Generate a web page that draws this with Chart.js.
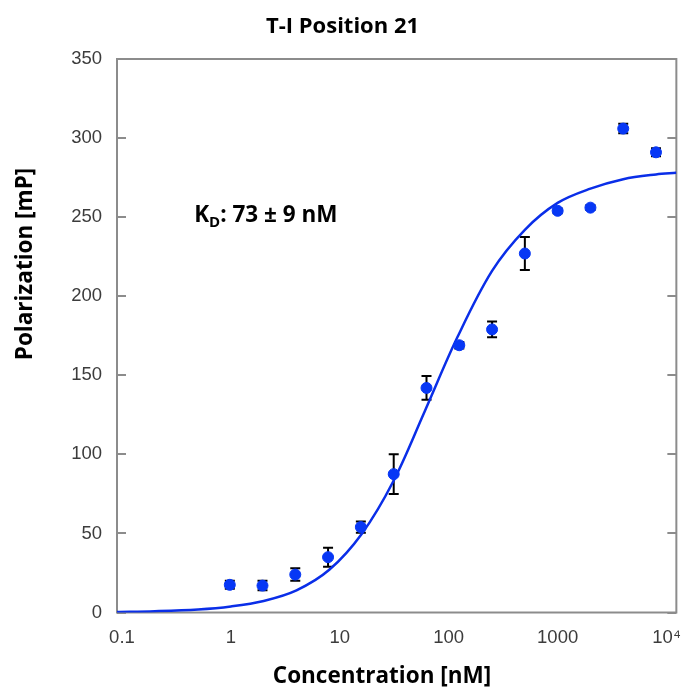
<!DOCTYPE html>
<html>
<head>
<meta charset="utf-8">
<script src="https://cdn.jsdelivr.net/npm/chart.js@4.4.1/dist/chart.umd.min.js"></script>
<style>
  html, body { margin: 0; padding: 0; background: #fff; }
</style>
</head>
<body>
<canvas id="fpChart" width="695" height="696"></canvas>
<script>
// titration: concentration (nM) vs. polarization (mP)
const concentrations = [0.977, 1.95, 3.9, 7.8, 15.6, 31.25, 62.5, 125, 250, 500, 1000, 2000, 4000, 8000];
const polarization   = [17.5, 17, 24, 35, 54, 87.5, 142, 169, 179, 227, 254, 256, 306, 291];
const polErrors      = [2.5, 3, 4, 6, 3.5, 12.5, 7.5, 2, 5, 10.5, 1.5, 1.5, 3, 2.5];

// fitted binding curve
const fitConc = [0.09, 0.2, 0.5, 1, 2, 4, 8, 16, 31, 60, 120, 250, 500, 1000, 2000, 4000, 8000, 12300];
const fitPol  = [0.35, 0.8, 1.9, 3.8, 7.3, 14, 27, 50, 83, 127, 174, 216, 242, 259, 268, 274, 277, 278];

const xTicks      = [0.1, 1, 10, 100, 1000, 10000];
const xTickLabels = ['0.1', '1', '10', '100', '1000', '10\u2074'];
const yTicks      = [0, 50, 100, 150, 200, 250, 300, 350];

const titleFont = '"Open Sans", Lato, sans-serif';

// frame, inward ticks, error bars and the free text
const decorPlugin = {
    id: 'decor',
    beforeDatasetsDraw(chart) {
        const { ctx, chartArea: a, scales: { x, y } } = chart;
        ctx.save();
        ctx.strokeStyle = '#8c8c8c';
        ctx.lineWidth = 2;
        ctx.strokeRect(a.left, a.top, a.width, a.height);
        ctx.beginPath();
        yTicks.forEach(v => {
            const py = Math.round(y.getPixelForValue(v));
            ctx.moveTo(a.left, py); ctx.lineTo(a.left + 9, py);
            ctx.moveTo(a.right - 9, py); ctx.lineTo(a.right, py);
        });
        ctx.stroke();

        ctx.strokeStyle = '#000';
        ctx.lineWidth = 2;
        concentrations.forEach((c, i) => {
            const px = x.getPixelForValue(c);
            const top = y.getPixelForValue(polarization[i] + polErrors[i]);
            const bot = y.getPixelForValue(polarization[i] - polErrors[i]);
            ctx.beginPath();
            ctx.moveTo(px, top); ctx.lineTo(px, bot);
            ctx.moveTo(px - 5, top); ctx.lineTo(px + 5, top);
            ctx.moveTo(px - 5, bot); ctx.lineTo(px + 5, bot);
            ctx.stroke();
        });
        ctx.restore();
    },
    afterDraw(chart) {
        const { ctx, scales: { x, y } } = chart;
        ctx.save();
        ctx.fillStyle = '#000';
        ctx.textAlign = 'center';
        ctx.textBaseline = 'middle';
        ctx.font = 'bold 22.5px ' + titleFont;
        ctx.fillText('Concentration [nM]', 382, 677);

        ctx.translate(26, 264);
        ctx.rotate(-Math.PI / 2);
        ctx.fillText('Polarization [mP]', 0, 0);
        ctx.restore();

        // K_D annotation
        ctx.save();
        ctx.fillStyle = '#000';
        ctx.textBaseline = 'alphabetic';
        let tx = x.getPixelForValue(0.46);
        const ty = y.getPixelForValue(247);
        ctx.font = 'bold 22.5px ' + titleFont;
        ctx.fillText('K', tx, ty);
        tx += ctx.measureText('K').width;
        ctx.font = 'bold 15px ' + titleFont;
        ctx.fillText('D', tx, ty + 5);
        tx += ctx.measureText('D').width;
        ctx.font = 'bold 22.5px ' + titleFont;
        ctx.fillText(': 73 \u00b1 9 nM', tx, ty);
        ctx.restore();
    }
};

const fitData = fitConc.map((c, i) => ({ x: c, y: fitPol[i] }));
const pointData = concentrations.map((c, i) => ({ x: c, y: polarization[i] }));

new Chart(document.getElementById('fpChart'), {
    type: 'scatter',
    data: {
        datasets: [
            {
                label: 'fit',
                data: fitData,
                showLine: true,
                borderColor: '#0a2ee8',
                borderWidth: 2.5,
                pointRadius: 0,
                tension: 0.35,
                order: 2
            },
            {
                label: 'data',
                data: pointData,
                backgroundColor: '#0737f5',
                borderColor: '#0737f5',
                pointRadius: 5.5,
                order: 1
            }
        ]
    },
    options: {
        responsive: false,
        animation: false,
        layout: { padding: { left: 0, right: 10, top: 0, bottom: 0 } },
        plugins: {
            legend: { display: false },
            tooltip: { enabled: false },
            title: {
                display: true,
                text: 'T-I Position 21',
                color: '#000',
                font: { family: titleFont, size: 22, weight: 'bold' },
                padding: { top: 13.8, bottom: 18.8 }
            }
        },
        scales: {
            x: {
                type: 'logarithmic',
                min: 0.09,
                max: 12300,
                grid: { display: false, drawTicks: false },
                border: { display: false },
                afterBuildTicks: s => { s.ticks = xTicks.map(v => ({ value: v })); },
                afterFit: s => { s.height = 83.5; },
                ticks: {
                    autoSkip: false,
                    maxRotation: 0,
                    padding: 14,
                    color: '#3c3c3c',
                    font: { family: '"Liberation Sans", Arial, sans-serif', size: 18.5 },
                    callback: (v, i) => xTickLabels[i]
                }
            },
            y: {
                min: 0,
                max: 350,
                grid: { display: false, drawTicks: false },
                border: { display: false },
                afterBuildTicks: s => { s.ticks = yTicks.map(v => ({ value: v })); },
                afterFit: s => { s.width = 117; },
                ticks: {
                    padding: 15,
                    color: '#3c3c3c',
                    font: { family: '"Liberation Sans", Arial, sans-serif', size: 18.5 }
                }
            }
        }
    },
    plugins: [decorPlugin]
});
</script>
</body>
</html>
